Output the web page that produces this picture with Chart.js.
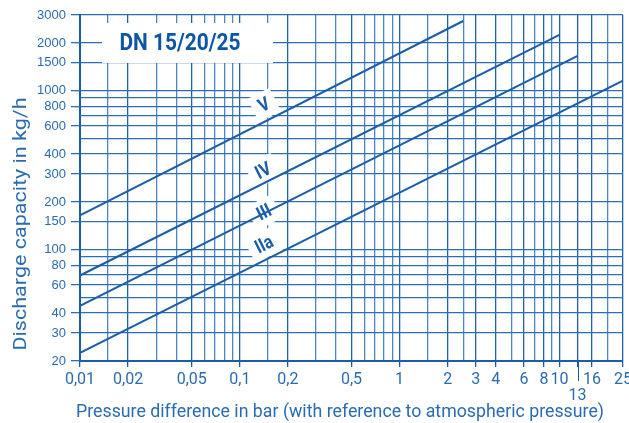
<!DOCTYPE html>
<html>
<head>
<meta charset="utf-8">
<script src="https://cdn.jsdelivr.net/npm/chart.js@4"></script>
<style>
  body { margin: 0; background: #fff; }
</style>
</head>
<body>
<canvas id="myChart" width="629" height="423"></canvas>
<script>
// grid lines and labelled ticks (bar / kg/h)
const pressureGrid = [0.01, 0.015, 0.02, 0.03, 0.04, 0.05, 0.06, 0.07, 0.08, 0.09, 0.1, 0.15, 0.2, 0.3, 0.4, 0.5, 0.6, 0.7, 0.8, 0.9, 1, 1.5, 2, 2.5, 3, 4, 5, 6, 7, 8, 9, 10, 13, 16, 20, 25];
const pressureLabels = [0.01, 0.02, 0.05, 0.1, 0.2, 0.5, 1, 2, 3, 4, 6, 8, 10, 13, 16, 25];
const capacityGrid = [20, 30, 40, 50, 60, 70, 80, 90, 100, 150, 200, 300, 400, 500, 600, 700, 800, 900, 1000, 1500, 2000, 3000];
const capacityLabels = [20, 30, 40, 60, 80, 100, 150, 200, 300, 400, 600, 800, 1000, 1500, 2000, 3000];

// the four curves, start and end of each straight line
const curveNames = ['V', 'IV', 'III', 'IIa'];
const curveStartP = [0.01, 0.01, 0.01, 0.01];
const curveStartQ = [165, 69, 44.5, 22.5];
const curveEndP = [2.5, 10, 13, 25];
const curveEndQ = [2750, 2250, 1660, 1160];

// where the curve names sit
const labelP = [0.142, 0.14, 0.142, 0.142];
const labelQ = [815, 314, 172, 108];

const family = "Roboto, 'Liberation Sans', sans-serif";
const blue = '#1a5ea8';
const gridBlue = '#2d6fb6';
const textBlue = '#2a6cb2';

const fmt = v => String(v).replace('.', ',');

// draw text squeezed horizontally to a given width (the original uses a condensed face)
function squeeze(ctx, text, cx, cy, width) {
    const w = ctx.measureText(text).width;
    ctx.save();
    ctx.translate(cx, cy);
    ctx.scale(width / w, 1);
    ctx.fillText(text, 0, 0);
    ctx.restore();
}

function slopeAngle(chart) {
    const x = chart.scales.x, y = chart.scales.y;
    return Math.atan2(
        y.getPixelForValue(curveEndQ[1]) - y.getPixelForValue(curveStartQ[1]),
        x.getPixelForValue(curveEndP[1]) - x.getPixelForValue(curveStartP[1]));
}

const overlay = {
    id: 'overlay',
    beforeDatasetsDraw(chart) {
        const ctx = chart.ctx;
        const x = chart.scales.x, y = chart.scales.y;
        const ang = slopeAngle(chart);
        ctx.save();
        ctx.fillStyle = '#fff';
        // title box
        ctx.fillRect(102, 23, 171, 40);
        // label boxes
        ctx.font = 'bold 19px ' + family;
        curveNames.forEach((n, i) => {
            const w = ctx.measureText(n).width * 0.85 + 14;
            ctx.save();
            ctx.translate(x.getPixelForValue(labelP[i]), y.getPixelForValue(labelQ[i]));
            ctx.rotate(ang);
            ctx.fillRect(-w / 2, -13, w, 26);
            ctx.restore();
        });
        ctx.restore();
    },
    afterDraw(chart) {
        const ctx = chart.ctx;
        const x = chart.scales.x, y = chart.scales.y;
        const ang = slopeAngle(chart);
        ctx.save();
        // long tick for 13
        const p13 = Math.round(x.getPixelForValue(13)) + 0.5;
        ctx.strokeStyle = blue;
        ctx.lineWidth = 1;
        ctx.beginPath();
        ctx.moveTo(p13, chart.chartArea.bottom);
        ctx.lineTo(p13, chart.chartArea.bottom + 20);
        ctx.stroke();

        ctx.textAlign = 'center';
        ctx.textBaseline = 'middle';
        ctx.fillStyle = '#0d56a6';
        ctx.font = 'bold 24px ' + family;
        squeeze(ctx, 'DN 15/20/25', 180, 44, 121);

        ctx.fillStyle = blue;
        ctx.font = 'bold 19px ' + family;
        curveNames.forEach((n, i) => {
            ctx.save();
            ctx.translate(x.getPixelForValue(labelP[i]), y.getPixelForValue(labelQ[i]));
            ctx.rotate(ang);
            const w = ctx.measureText(n).width * 0.85;
            squeeze(ctx, n, 0, 1, w);
            ctx.restore();
        });

        ctx.fillStyle = textBlue;
        ctx.font = '18px ' + family;
        squeeze(ctx, 'Pressure difference in bar (with reference to atmospheric pressure)', 340, 412, 528);
        ctx.translate(21, 224);
        ctx.rotate(-Math.PI / 2);
        squeeze(ctx, 'Discharge capacity in kg/h', 0, 0, 253);
        ctx.restore();
    }
};

const datasets = curveNames.map((n, i) => ({
    label: n,
    data: [{ x: curveStartP[i], y: curveStartQ[i] }, { x: curveEndP[i], y: curveEndQ[i] }],
    borderColor: blue,
    borderWidth: 2,
    pointRadius: 0,
    fill: false
}));

new Chart('myChart', {
    type: 'line',
    data: { datasets: datasets },
    plugins: [overlay],
    options: {
        responsive: false,
        animation: false,
        layout: { padding: { top: 15, right: 6, left: 0, bottom: 0 } },
        plugins: { legend: { display: false }, tooltip: { enabled: false } },
        scales: {
            x: {
                type: 'logarithmic',
                min: 0.01,
                max: 25,
                afterBuildTicks: s => { s.ticks = pressureGrid.map(v => ({ value: v })); },
                afterFit: s => { s.height = 62; s.paddingRight = 0; s.paddingLeft = 0; },
                border: { color: blue, width: 2 },
                grid: {
                    color: c => pressureLabels.includes(c.tick && c.tick.value) ? '#1f62ad' : '#4a85c4',
                    tickColor: c => pressureLabels.includes(c.tick && c.tick.value) ? blue : 'rgba(0,0,0,0)',
                    tickLength: 6,
                    lineWidth: 1.3
                },
                ticks: {
                    autoSkip: false,
                    maxRotation: 0,
                    padding: 5,
                    color: textBlue,
                    font: { family: family, size: 16, lineHeight: 1 },
                    callback: v => v === 13 ? ['', '13'] : (pressureLabels.includes(v) ? fmt(v) : '')
                }
            },
            y: {
                type: 'logarithmic',
                min: 20,
                max: 3000,
                afterBuildTicks: s => { s.ticks = capacityGrid.map(v => ({ value: v })); },
                afterFit: s => { s.width = 80; },
                border: { color: blue, width: 2 },
                grid: {
                    color: gridBlue,
                    tickColor: c => capacityLabels.includes(c.tick && c.tick.value) ? gridBlue : 'rgba(0,0,0,0)',
                    tickLength: 9,
                    lineWidth: 1.3
                },
                ticks: {
                    autoSkip: false,
                    padding: 5,
                    color: textBlue,
                    font: { family: "'Liberation Sans', Arial, sans-serif", size: 13 },
                    callback: v => capacityLabels.includes(v) ? String(v) : ''
                }
            }
        }
    }
});
</script>
</body>
</html>
